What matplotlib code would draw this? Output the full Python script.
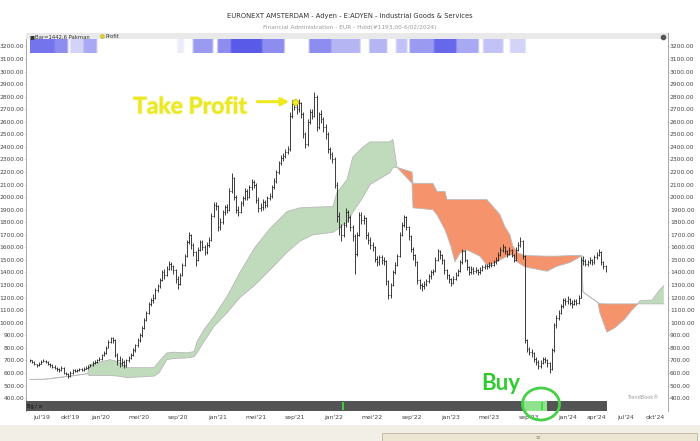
import matplotlib
matplotlib.use('Agg')
import matplotlib.pyplot as plt
import matplotlib.dates as mdates
import matplotlib.patheffects as pe
from matplotlib.collections import LineCollection
from matplotlib.colors import LinearSegmentedColormap
from matplotlib.patches import Ellipse, Rectangle
import numpy as np
import pandas as pd

# weekly bars, first week
first_week = '2019-05-27'
close = [700, 690, 670, 660, 675, 690, 695, 690, 670, 660,
         650, 640, 630, 620, 640, 600, 590, 575, 600, 620,
         615, 625, 630, 620, 635, 640, 650, 660, 680, 690,
         700, 710, 740, 760, 800, 850, 875, 860, 740, 700,
         680, 690, 660, 700, 720, 745, 780, 820, 860, 900,
         960, 1020, 1080, 1150, 1180, 1200, 1260, 1290, 1340, 1400,
         1380, 1430, 1470, 1450, 1420, 1350, 1310, 1380, 1460, 1530,
         1640, 1700, 1620, 1560, 1500, 1580, 1640, 1600, 1560, 1620,
         1660, 1850, 1940, 1930, 1760, 1800, 1880, 1920, 1900, 2050,
         2150, 2000, 1900, 1880, 1950, 1990, 2050, 2000, 2080, 2120,
         2100, 1980, 1910, 1920, 1960, 1940, 1990, 2010, 2080, 2130,
         2200, 2270, 2310, 2330, 2360, 2380, 2650, 2740, 2720, 2700,
         2750, 2660, 2500, 2420, 2600, 2680, 2650, 2800, 2560, 2660,
         2620, 2560, 2500, 2380, 2340, 2300, 2100, 1850, 1760, 1700,
         1780, 1880, 1840, 1760, 1690, 1550, 1700, 1860, 1820, 1830,
         1700, 1660, 1620, 1600, 1510, 1480, 1520, 1500, 1490, 1330,
         1220, 1300, 1400, 1460, 1530, 1700, 1780, 1840, 1760, 1690,
         1590, 1540, 1480, 1340, 1300, 1290, 1310, 1330, 1370, 1400,
         1410, 1500, 1570, 1540, 1500, 1420, 1380, 1350, 1320, 1350,
         1380, 1410, 1480, 1570, 1500, 1440, 1400, 1430, 1410, 1420,
         1400, 1420, 1440, 1450, 1450, 1460, 1460, 1480, 1500, 1540,
         1580, 1600, 1570, 1550, 1580, 1540, 1500, 1580, 1620, 1650,
         1530, 860, 790, 770, 760, 710, 690, 655, 680, 710,
         700, 680, 630, 780, 980, 1040, 1080, 1130, 1180, 1170,
         1190, 1160, 1150, 1170, 1160, 1200, 1500, 1490, 1470, 1480,
         1500, 1480, 1520, 1540, 1560, 1480, 1450, 1420]
high = [715, 705, 695, 675, 685, 700, 710, 705, 695, 678,
        668, 660, 648, 640, 655, 645, 610, 598, 612, 630,
        632, 635, 642, 638, 645, 652, 662, 672, 692, 705,
        715, 725, 752, 775, 812, 862, 890, 885, 870, 760,
        735, 720, 705, 712, 738, 760, 795, 832, 875, 915,
        975, 1035, 1095, 1165, 1200, 1225, 1275, 1310, 1360, 1420,
        1425, 1450, 1490, 1485, 1460, 1430, 1370, 1395, 1475, 1550,
        1660, 1720, 1710, 1635, 1575, 1600, 1660, 1655, 1615, 1640,
        1680, 1870, 1960, 1965, 1940, 1830, 1900, 1940, 1945, 2070,
        2190, 2160, 2020, 1930, 1970, 2010, 2070, 2065, 2100, 2145,
        2140, 2110, 2000, 1950, 1985, 1980, 2010, 2035, 2100, 2150,
        2220, 2290, 2335, 2355, 2385, 2410, 2680, 2770, 2770, 2745,
        2780, 2760, 2680, 2520, 2620, 2700, 2700, 2840, 2810, 2680,
        2690, 2640, 2580, 2520, 2400, 2360, 2320, 2120, 1880, 1790,
        1800, 1910, 1900, 1860, 1780, 1710, 1720, 1880, 1880, 1855,
        1840, 1720, 1680, 1640, 1610, 1530, 1540, 1540, 1520, 1500,
        1340, 1320, 1420, 1480, 1550, 1720, 1800, 1860, 1850, 1770,
        1700, 1600, 1550, 1490, 1350, 1320, 1330, 1350, 1390, 1420,
        1430, 1520, 1590, 1580, 1550, 1510, 1430, 1390, 1360, 1370,
        1400, 1430, 1500, 1590, 1580, 1510, 1450, 1450, 1440, 1440,
        1430, 1440, 1460, 1470, 1470, 1480, 1485, 1500, 1520, 1560,
        1600, 1625, 1610, 1580, 1600, 1590, 1550, 1600, 1640, 1680,
        1660, 1540, 870, 810, 790, 770, 725, 700, 700, 725,
        730, 710, 690, 800, 1000, 1060, 1100, 1150, 1200, 1200,
        1210, 1200, 1180, 1190, 1190, 1220, 1520, 1530, 1510, 1500,
        1520, 1510, 1540, 1560, 1590, 1570, 1490, 1460]
low = [690, 680, 662, 650, 655, 670, 685, 680, 662, 650,
       640, 632, 618, 610, 615, 592, 580, 560, 570, 595,
       605, 608, 618, 612, 615, 628, 635, 645, 655, 672,
       682, 692, 705, 735, 752, 795, 840, 835, 725, 665,
       650, 655, 640, 650, 690, 710, 738, 770, 810, 850,
       890, 950, 1010, 1070, 1130, 1160, 1190, 1245, 1280, 1330,
       1350, 1370, 1420, 1420, 1390, 1320, 1270, 1300, 1370, 1450,
       1520, 1630, 1590, 1530, 1450, 1490, 1570, 1580, 1540, 1550,
       1600, 1650, 1840, 1900, 1730, 1740, 1790, 1860, 1870, 1890,
       2030, 1980, 1870, 1850, 1870, 1930, 1980, 1975, 1990, 2060,
       2070, 1950, 1880, 1890, 1900, 1915, 1925, 1975, 1995, 2065,
       2115, 2185, 2255, 2290, 2315, 2340, 2370, 2630, 2690, 2660,
       2680, 2630, 2470, 2390, 2410, 2580, 2620, 2640, 2530, 2540,
       2590, 2520, 2460, 2350, 2300, 2270, 2070, 1800, 1700, 1650,
       1680, 1760, 1800, 1730, 1650, 1390, 1530, 1690, 1790, 1790,
       1670, 1630, 1590, 1570, 1480, 1450, 1460, 1470, 1460, 1300,
       1190, 1200, 1290, 1390, 1450, 1520, 1690, 1760, 1740, 1660,
       1560, 1500, 1450, 1310, 1270, 1250, 1270, 1290, 1320, 1350,
       1380, 1400, 1490, 1510, 1470, 1390, 1350, 1320, 1290, 1310,
       1340, 1370, 1400, 1470, 1480, 1420, 1380, 1390, 1390, 1395,
       1380, 1390, 1410, 1425, 1430, 1435, 1440, 1450, 1470, 1490,
       1530, 1560, 1550, 1520, 1540, 1520, 1480, 1490, 1570, 1600,
       1510, 840, 770, 740, 730, 690, 660, 630, 640, 670,
       680, 650, 600, 620, 770, 960, 1020, 1070, 1120, 1140,
       1150, 1140, 1120, 1140, 1140, 1150, 1200, 1460, 1450, 1450,
       1470, 1460, 1470, 1510, 1530, 1460, 1430, 1400]

# ichimoku cloud (leading spans, already shifted forward)
cloud_dates = ['2019-05-27', '2019-07-13', '2019-08-29', '2019-10-15', '2019-11-24',
               '2019-11-27', '2020-02-01', '2020-02-26', '2020-03-25', '2020-06-18',
               '2020-07-03', '2020-07-28', '2020-08-19', '2020-09-29', '2020-10-21',
               '2020-10-30', '2020-11-21', '2020-12-22', '2021-02-01', '2021-03-13',
               '2021-04-29', '2021-06-15', '2021-08-07', '2021-09-17', '2021-10-27',
               '2021-12-29', '2022-01-10', '2022-02-11', '2022-03-01', '2022-04-02',
               '2022-04-24', '2022-06-25', '2022-07-04', '2022-07-17', '2022-07-20',
               '2022-09-02', '2022-09-05', '2022-11-06', '2022-11-19', '2022-12-14',
               '2022-12-20', '2023-01-02', '2023-01-14', '2023-01-30', '2023-02-21',
               '2023-04-02', '2023-04-24', '2023-05-13', '2023-06-04', '2023-06-19',
               '2023-07-05', '2023-07-14', '2023-07-30', '2023-08-21', '2023-10-29',
               '2023-11-29', '2024-01-09', '2024-02-09', '2024-02-15', '2024-02-18',
               '2024-04-05', '2024-04-11', '2024-05-03', '2024-05-28', '2024-06-28',
               '2024-07-20', '2024-08-08', '2024-08-14', '2024-09-21', '2024-09-30',
               '2024-10-16', '2024-10-28']
span_a = [548, 550, 565, 580, 595,
          665, 706, 690, 642, 642,
          690, 760, 765, 760, 770,
          850, 945, 1050, 1210, 1400,
          1600, 1750, 1885, 1915, 1920,
          1925, 2035, 2140, 2320, 2400,
          2440, 2440, 2460, 2240, 2230,
          2110, 1915, 1900, 1860, 1740,
          1700, 1605, 1485, 1555, 1580,
          1530, 1460, 1470, 1500, 1520,
          1540, 1540, 1480, 1445, 1410,
          1450, 1480, 1525, 1530, 1245,
          1160, 1080, 925, 960, 1030,
          1100, 1150, 1175, 1180, 1210,
          1265, 1295]
span_b = [548, 550, 565, 580, 595,
          580, 580, 575, 563, 575,
          600, 706, 715, 720, 730,
          760, 850, 970, 1080, 1200,
          1300, 1420, 1560, 1650, 1700,
          1720, 1740, 1800, 1880, 2000,
          2100, 2195, 2235, 2235, 2235,
          2200, 2110, 2110, 2045, 2045,
          1980, 1980, 1980, 1980, 1980,
          1980, 1980, 1925, 1860, 1765,
          1700, 1610, 1555, 1535, 1530,
          1530, 1535, 1535, 1535, 1245,
          1160, 1152, 1150, 1150, 1150,
          1150, 1150, 1150, 1150, 1150,
          1150, 1150]

# "Pakman" strength strip at the top
pak_start = ['2019-05-27', '2019-08-10', '2019-09-29', '2019-11-10', '2020-08-28', '2020-10-17',
             '2020-12-31', '2021-02-10', '2021-05-20', '2021-10-18', '2021-12-20', '2022-04-24',
             '2022-07-17', '2022-08-27', '2022-11-10', '2023-01-20', '2023-04-12', '2023-07-05']
pak_end = ['2019-08-10', '2019-09-20', '2019-11-10', '2019-12-22', '2020-09-16', '2020-12-19',
           '2021-02-10', '2021-05-20', '2021-07-26', '2021-12-20', '2022-03-23', '2022-06-16',
           '2022-08-17', '2022-11-10', '2023-01-20', '2023-04-02', '2023-06-13', '2023-08-27']
pak_level = [0.85, 0.75, 0.45, 0.65, 0.2, 0.7,
             0.75, 0.95, 0.75, 0.75, 0.6, 0.6,
             0.55, 0.7, 0.9, 0.65, 0.55, 0.45]

signal_dates = ['2022-01-29', '2023-10-13']
buy_zone = ['2023-08-15', '2023-10-29']
profit_date = '2021-09-01'
profit_price = 2760

tick_labels = ["jul'19", "okt'19", "jan'20", "mei'20", "sep'20", "jan'21", "mei'21", "sep'21", "jan'22",
               "mei'22", "sep'22", "jan'23", "mei'23", "sep'23", "jan'24", "apr'24", "jul'24", "okt'24"]
tick_dates = ['2019-07-01', '2019-10-01', '2020-01-01', '2020-05-01', '2020-09-01', '2021-01-01',
              '2021-05-01', '2021-09-01', '2022-01-01', '2022-05-01', '2022-09-01', '2023-01-01',
              '2023-05-01', '2023-09-01', '2024-01-01', '2024-04-01', '2024-07-01', '2024-10-01']

W, H = 700, 441
fig = plt.figure(figsize=(7, 4.41), dpi=100)
fig.patch.set_facecolor('white')
ax = fig.add_axes([26 / W, 1 - 411 / H, (668 - 26) / W, (411 - 33) / H])

dates = pd.date_range(first_week, periods=len(close), freq='7D')
xs = mdates.date2num(dates)
x0 = xs[0]

# cloud
cx = mdates.date2num(pd.to_datetime(cloud_dates))
a = np.array(span_a, dtype=float)
b = np.array(span_b, dtype=float)
ax.fill_between(cx, a, b, where=a >= b, interpolate=True, color='#c0dbbb', lw=0, zorder=1)
ax.fill_between(cx, a, b, where=a <= b, interpolate=True, color='#f5936d', lw=0, zorder=1)
ax.plot(cx, a, color='#b8b8b8', lw=0.6, zorder=1.5)
ax.plot(cx, b, color='#b8b8b8', lw=0.6, zorder=1.5)

# OHLC bars
segs = []
for k in range(len(close)):
    segs.append([(xs[k], low[k]), (xs[k], high[k])])
    segs.append([(xs[k], close[k]), (xs[k] + 2.5, close[k])])
    if k > 0:
        segs.append([(xs[k] - 2.5, close[k - 1]), (xs[k], close[k - 1])])
ax.add_collection(LineCollection(segs, colors='#1e1e1e', linewidths=0.6, zorder=3))

# pakman strip
lvl = np.zeros(len(dates))
for s, e, v in zip(pak_start, pak_end, pak_level):
    m = (dates >= pd.Timestamp(s)) & (dates <= pd.Timestamp(e))
    lvl[m] = np.maximum(lvl[m], v)
blues = LinearSegmentedColormap.from_list('pak', ['#ffffff', '#cfcff8', '#4e4ee8'])
ax.imshow(lvl[None, :], extent=[xs[0], xs[-1], 3145, 3255], cmap=blues, vmin=0, vmax=1,
          interpolation='bilinear', aspect='auto', zorder=2)

ax.set_xlim(x0 - 12.5, x0 + 1994)
ax.set_ylim(297, 3307)

# header strip with legend text
ax.add_patch(Rectangle((0, 0.983), 1, 0.017, transform=ax.transAxes, facecolor='#e9e9e9',
                       edgecolor='none', zorder=4))
ax.text(0.006, 0.9915, '\u25a0Bar=1442,6 Pakman', transform=ax.transAxes, fontsize=3.8,
        color='#333333', va='center', ha='left', zorder=5)
ax.plot([0.118], [0.9915], 'o', transform=ax.transAxes, ms=2.6, mfc='#e8d820', mec='#b0a000',
        mew=0.4, zorder=5)
ax.text(0.124, 0.9915, 'Profit', transform=ax.transAxes, fontsize=3.8, color='#333333',
        va='center', ha='left', zorder=5)

# dark signal bar at the bottom
ax.add_patch(Rectangle((ax.get_xlim()[0], 297), xs[-1] + 3 - ax.get_xlim()[0], 79,
                       facecolor='#545454', edgecolor='none', zorder=4))
bz = mdates.date2num(pd.to_datetime(buy_zone))
ax.add_patch(Rectangle((bz[0], 297), bz[1] - bz[0], 79, facecolor='#8fe38f', edgecolor='none', zorder=4.5))
for d in mdates.date2num(pd.to_datetime(signal_dates)):
    ax.vlines(d, 305, 368, color='#3ddc3d', lw=1.3, zorder=5)
ax.text(x0 - 8, 336, 'Bg / \u221e', fontsize=3.6, color='#111111', va='center', ha='left', zorder=5)
ax.text(0.985, 0.035, 'TrendBook\u00ae', transform=ax.transAxes, fontsize=3.6, color='#9a9a9a',
        ha='right', va='center')

# take profit marker
px = mdates.date2num(pd.Timestamp(profit_date))
ax.plot(px, profit_price, 'o', ms=4.2, mfc='#f2ea2a', mec='#c8b800', mew=0.6, zorder=6)
ax.annotate('', xy=(px, profit_price), xytext=(-27, 0), textcoords='offset points',
            arrowprops=dict(arrowstyle='-|>', color='#eee820', lw=2.2, shrinkA=0, shrinkB=4,
                            mutation_scale=11), zorder=6)

# axes styling
yt = list(range(400, 3300, 100))
ax.set_yticks(yt)
ax.set_yticklabels([f'{v:.2f}' for v in yt])
ax.tick_params(axis='y', which='both', left=True, right=True, labelleft=True, labelright=True,
               labelsize=4.3, labelcolor='#444444', color='#999999', length=1, width=0.5, pad=0.4)
ax.set_xticks(mdates.date2num(pd.to_datetime(tick_dates)))
ax.set_xticklabels(tick_labels)
ax.tick_params(axis='x', length=0, labelsize=4.4, labelcolor='#444444', pad=3)
for side in ['left', 'right', 'top']:
    ax.spines[side].set_color('#9a9a9a')
    ax.spines[side].set_linewidth(0.6)
ax.spines['bottom'].set_visible(False)

# titles
fig.text(0.5, 1 - 16 / H, 'EURONEXT AMSTERDAM - Adyen - E:ADYEN - Industrial Goods & Services',
         fontsize=4.9, color='#333333', ha='center', va='center')
fig.text(0.5, 1 - 28 / H, 'Financial Administration - EUR - Hold(#1193,00-6/02/2024)',
         fontsize=4.2, color='#9a9a9a', ha='center', va='center')
fig.lines.append(plt.Line2D([663 / W], [1 - 37 / H], marker='o', ms=3, color='#555555',
                            transform=fig.transFigure, figure=fig))

# big annotations
fig.text(190 / W, 1 - 107 / H, 'Take Profit', fontsize=16.5, fontweight='bold', family=['Lato', 'DejaVu Sans'],
         color='#eae81e', ha='center', va='center',
         path_effects=[pe.withStroke(linewidth=1.2, foreground='#f6f4a0')])
fig.text(501 / W, 1 - 384 / H, 'Buy', fontsize=16, fontweight='bold', family=['Lato', 'DejaVu Sans'],
         color='#2fcc2f', ha='center', va='center')
fig.add_artist(Ellipse((541 / W, 1 - 404 / H), 37 / W, 32 / H, transform=fig.transFigure,
                       facecolor='none', edgecolor='#47d047', lw=2))

# bottom scroll area
fig.add_artist(Rectangle((0, 0), 1, 16 / H, transform=fig.transFigure, facecolor='#f2efe6',
                         edgecolor='none', zorder=0))
fig.add_artist(Rectangle((382 / W, 0), 315 / W, 8 / H, transform=fig.transFigure, facecolor='#ece5d4',
                         edgecolor='#bdb39c', lw=0.6, zorder=1))
fig.text(538 / W, 4 / H, '\u2261', fontsize=4, color='#999080', ha='center', va='center')

fig.savefig('out.png', dpi=100)
